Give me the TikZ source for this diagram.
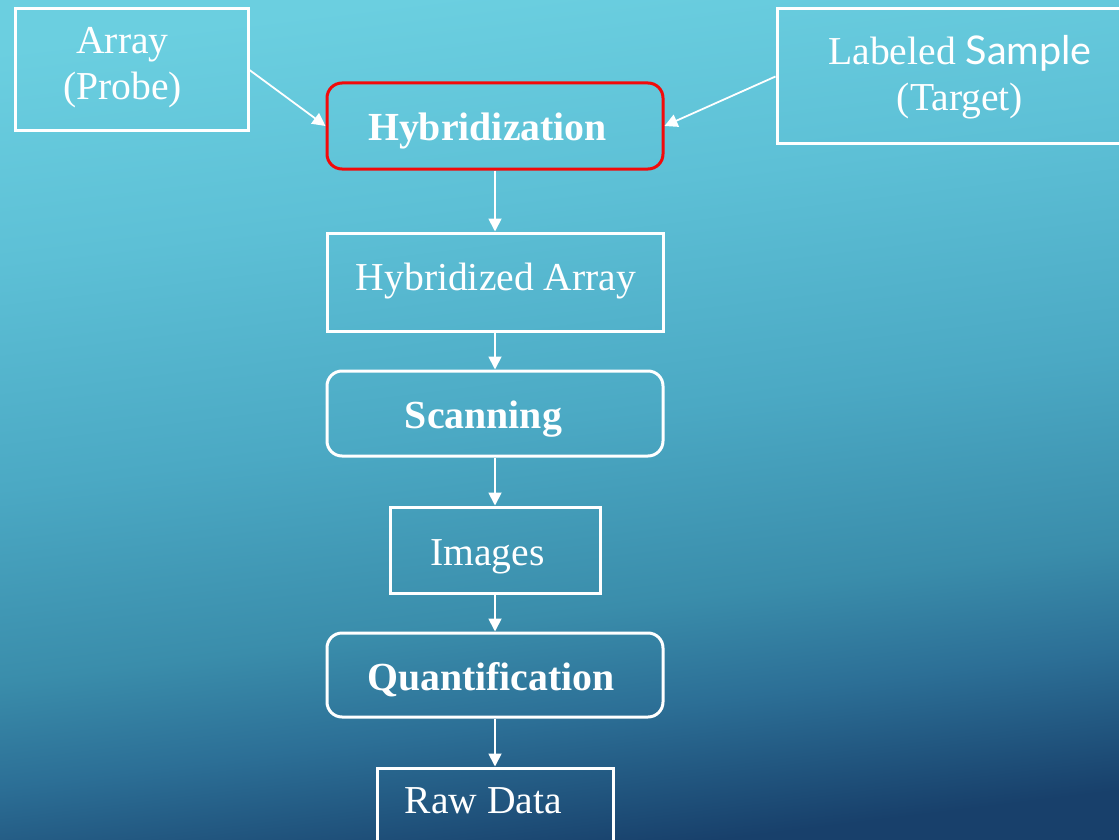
\documentclass[tikz,border=0pt]{standalone}
\usepackage{fontspec}
\setmainfont{Liberation Serif}
\newfontfamily\samplefont{Lato}
\usetikzlibrary{arrows.meta}

% slide background colours, top to bottom
\definecolor{bgA}{HTML}{6BCFE0}
\definecolor{bgB}{HTML}{5DC0D6}
\definecolor{bgC}{HTML}{4BA9C4}
\definecolor{bgD}{HTML}{3A8DAB}
\definecolor{bgE}{HTML}{2C6F96}
\definecolor{bgF}{HTML}{18406B}
\definecolor{hilite}{HTML}{F20A0A}

\pgfdeclareverticalshading{slidebg}{100bp}{%
  color(0bp)=(bgF); color(25bp)=(bgF); color(33bp)=(bgE); color(39bp)=(bgD);
  color(50bp)=(bgC); color(63bp)=(bgB); color(75bp)=(bgA); color(100bp)=(bgA)}

\tikzset{
  frame/.style={draw=white, line width=3pt, rectangle, inner sep=0pt},
  rframe/.style={frame, rounded corners=15pt},
  txt/.style={text=white, inner sep=0pt, font=\fontsize{39.6}{46}\selectfont},
  btxt/.style={txt, font=\fontsize{39.8}{46}\selectfont\bfseries},
  flow/.style={draw=white, line width=1.8pt, -{Triangle[length=13pt,width=13pt]}}
}

\begin{document}
\begin{tikzpicture}[x=1pt, y=-1pt]
  \useasboundingbox (0,0) rectangle (1119,840);
  \clip (0,0) rectangle (1119,840);
  \shade[shading=slidebg, shading angle=7] (0,0) rectangle (1119,840);

  % boxes
  \node[frame, minimum width=233pt, minimum height=122pt] (probe) at (131.5,70) {};
  \node[frame, minimum width=400pt, minimum height=135pt] (target) at (977,76.5) {};
  \node[rframe, draw=hilite, minimum width=336pt, minimum height=86pt] (hyb) at (495,126) {};
  \node[frame, minimum width=336pt, minimum height=98pt] (harr) at (495,282) {};
  \node[rframe, minimum width=336pt, minimum height=85pt] (scan) at (495,413.5) {};
  \node[frame, minimum width=210pt, minimum height=86pt] (img) at (495,550) {};
  \node[rframe, minimum width=336pt, minimum height=84pt] (quant) at (495,675) {};
  \node[frame, minimum width=236pt, minimum height=100pt] (raw) at (495,818) {};

  % texts
  \node[txt, align=center] (t-probe) at (122.5,67.8) {\strut Array\\\strut(Probe)};
  \node[txt, align=center] (t-target) at (960,78.8) {\strut Labeled {\samplefont Sample}\\\strut(Target)};
  \node[btxt, anchor=base] (t-hyb) at (487.5,141) {Hybridization};
  \node[txt, anchor=base] (t-harr) at (496,290) {Hybridized Array};
  \node[btxt, anchor=base] (t-scan) at (483.5,428) {Scanning};
  \node[txt, anchor=base] (t-img) at (487.5,565) {Images};
  \node[btxt, anchor=base] (t-quant) at (491,690) {Quantification};
  \node[txt, anchor=base] (t-raw) at (483.5,813) {Raw Data};

  % connectors
  \draw[flow] (probe.east) -- (hyb.west);
  \draw[flow] (target.west) -- (hyb.east);
  \draw[flow] (hyb.south) -- (harr.north);
  \draw[flow] (harr.south) -- (scan.north);
  \draw[flow] (scan.south) -- (img.north);
  \draw[flow] (img.south) -- (quant.north);
  \draw[flow] (quant.south) -- (raw.north);
\end{tikzpicture}
\end{document}
